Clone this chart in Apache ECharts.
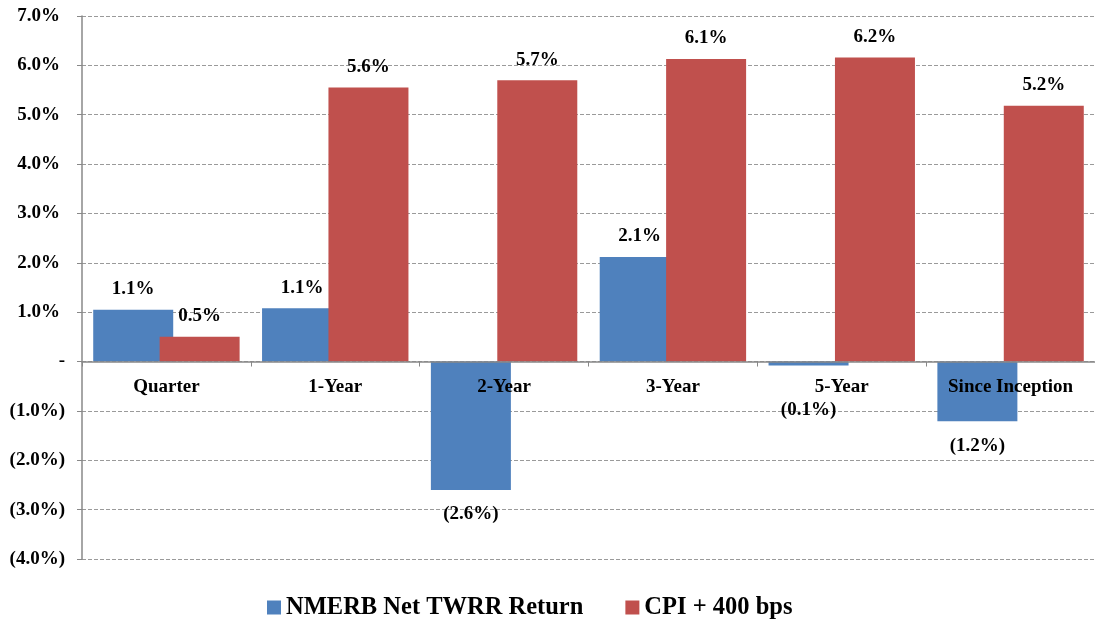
<!DOCTYPE html>
<html>
<head>
<meta charset="utf-8">
<script src="https://cdn.jsdelivr.net/npm/echarts@6/dist/echarts.min.js"></script>
<style>
  html, body { margin: 0; padding: 0; background: #fff; }
  #chart { width: 1095px; height: 622px; }
</style>
</head>
<body>
<div id="chart"></div>
<script>
const categories = ['Quarter', '1-Year', '2-Year', '3-Year', '5-Year', 'Since Inception']
const nmerbReturn = [1.05, 1.08, -2.6, 2.12, -0.08, -1.21]
const cpiPlus400 = [0.5, 5.55, 5.7, 6.13, 6.16, 5.18]
const seriesNames = ['NMERB Net TWRR Return', 'CPI + 400 bps']

const font = 'Liberation Serif, Times New Roman, serif'

function pct(v) {
    if (Math.abs(v) < 1e-9) return '-'
    const s = Math.abs(v).toFixed(1) + '%'
    return v < 0 ? '(' + s + ')' : s
}

const chart = echarts.init(document.getElementById('chart'))

// negative labels go under the bar; tiny negatives are pushed below the category label
function barData(values) {
    return values.map(v => ({
        value: v,
        label: {
            position: v < 0 ? 'bottom' : 'top',
            distance: v < 0 ? (v > -0.5 ? 35 : 15) : 11
        }
    }))
}

const labelStyle = {
    show: true,
    color: '#000',
    fontFamily: font,
    fontWeight: 'bold',
    fontSize: 19,
    formatter: p => pct(Math.round(p.value * 10) / 10)
}

const axisText = {
    color: '#000',
    fontFamily: font,
    fontWeight: 'bold',
    fontSize: 19
}

chart.setOption({
    animation: false,
    grid: {
        left: 82,
        top: 16,
        width: 1022,
        height: 543
    },
    legend: {
        bottom: -3,
        left: 262,
        itemWidth: 14,
        itemHeight: 14,
        itemGap: 42,
        icon: 'rect',
        textStyle: Object.assign({}, axisText, { fontSize: 24.5 }),
        data: seriesNames
    },
    xAxis: {
        type: 'category',
        data: categories,
        z: 10,
        axisLine: { onZero: true, lineStyle: { color: '#888', width: 1.5 } },
        axisTick: { show: true, length: 5, lineStyle: { color: '#888' } },
        axisLabel: Object.assign({}, axisText, { margin: 16 }),
        splitLine: { show: false }
    },
    yAxis: {
        type: 'value',
        min: -4,
        max: 7,
        interval: 1,
        axisLine: { show: true, lineStyle: { color: '#888', width: 1.5 } },
        axisTick: { show: true, length: 5, lineStyle: { color: '#888' } },
        axisLabel: Object.assign({}, axisText, {
            margin: 17,
            formatter: v => v > 0 ? '{p|' + pct(v) + '}' : pct(v),
            rich: { p: Object.assign({}, axisText, { padding: [0, 5, 0, 0] }) }
        }),
        splitLine: { show: true, lineStyle: { color: '#9a9a9a', type: [4, 2] } }
    },
    series: [
        {
            name: seriesNames[0],
            type: 'bar',
            barWidth: 80,
            barGap: '-17%',
            itemStyle: { color: '#4F81BD' },
            label: labelStyle,
            data: barData(nmerbReturn)
        },
        {
            name: seriesNames[1],
            type: 'bar',
            barWidth: 80,
            barGap: '-17%',
            itemStyle: { color: '#C0504D' },
            label: labelStyle,
            data: barData(cpiPlus400)
        }
    ]
})

// keep the category labels right under the zero line, as in the original
const zeroY = chart.convertToPixel({ yAxisIndex: 0 }, 0)
const bottomY = chart.convertToPixel({ yAxisIndex: 0 }, -4)
chart.setOption({ xAxis: { axisLabel: { margin: 16 - (bottomY - zeroY) } } })
</script>
</body>
</html>
